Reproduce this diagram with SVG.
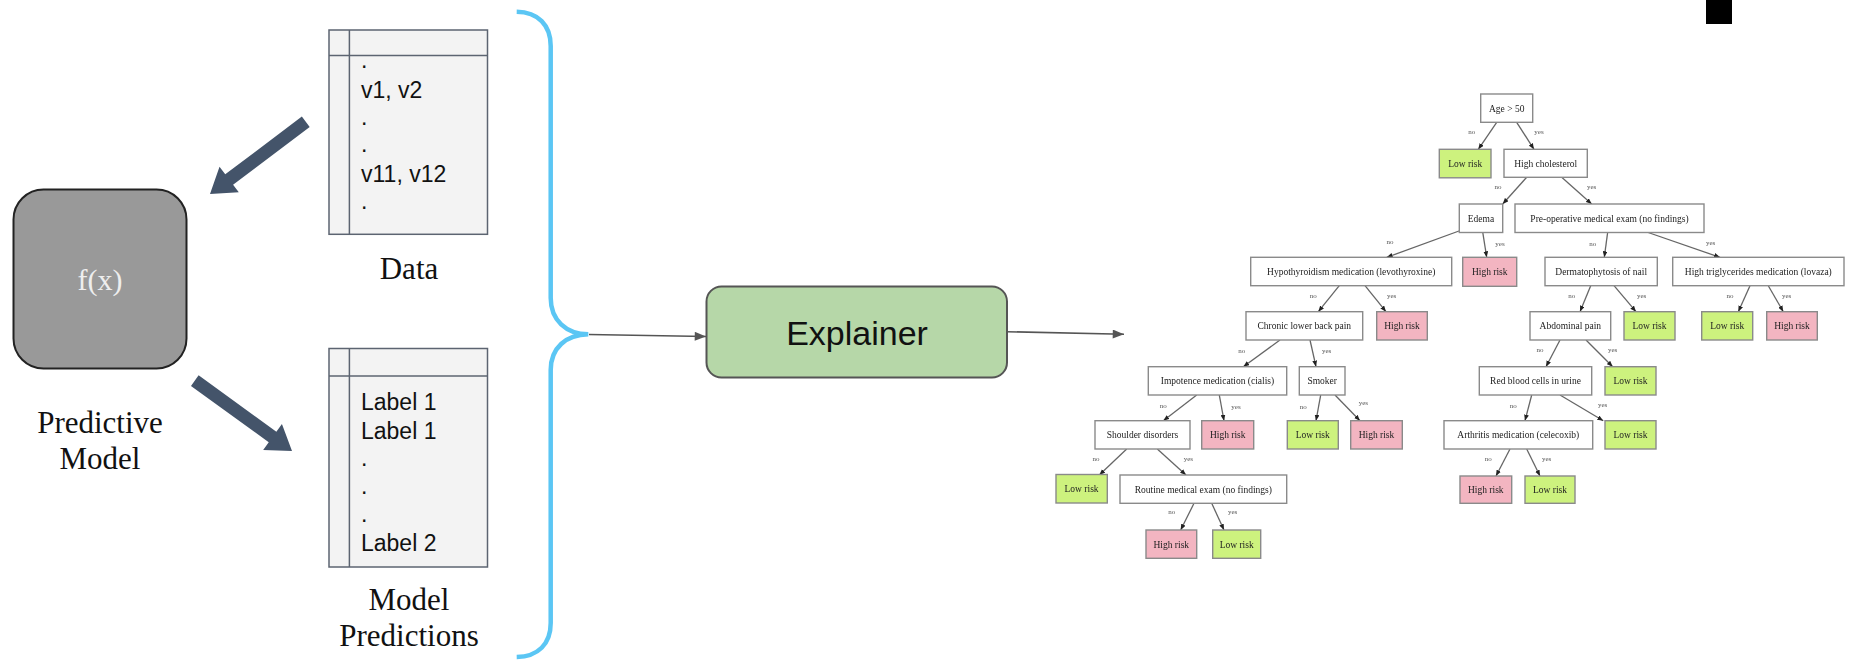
<svg xmlns="http://www.w3.org/2000/svg" xmlns:xlink="http://www.w3.org/1999/xlink" width="1853" height="660" viewBox="0 0 1853 660">
  <style>
    .serif { font-family: "Liberation Serif", "Times New Roman", serif; }
    .sans { font-family: "Liberation Sans", Arial, sans-serif; }
    .caption { font-family: "Liberation Serif", "Times New Roman", serif; font-size: 31px; fill: #111; text-anchor: middle; }
    .cell { font-family: "Liberation Sans", Arial, sans-serif; font-size: 23px; fill: #111; }
    .tbl { fill: #f3f3f3; stroke: #5c6471; stroke-width: 1.5; }
    .tline { stroke: #5c6471; stroke-width: 1.5; fill: none; }
    .fat { fill: #44546a; }
    .thin { stroke: #555; stroke-width: 1.6; fill: none; }
    .tn rect { stroke: #8a8a8a; stroke-width: 1.4; }
    .plain rect { fill: #ffffff; }
    .low rect { fill: #cdf27e; }
    .high rect { fill: #f3b5c1; }
    .tn text { font-family: "Liberation Serif", "Times New Roman", serif; font-size: 9.5px; fill: #222; text-anchor: middle; }
    .edge line { stroke: #666; stroke-width: 1.3; }
    .elab { font-family: "Liberation Serif", "Times New Roman", serif; font-size: 7px; fill: #555; text-anchor: middle; }
  </style>
  <defs>
    <!-- thick block arrow pointing along +x, tip at the origin -->
    <path id="fat-arrow" d="M-120,-6.5 L-24,-6.5 L-24,-16 L0,0 L-24,16 L-24,6.5 L-120,6.5 Z"/>
    <marker id="head" viewBox="0 0 10 8" refX="10" refY="4" markerWidth="12" markerHeight="9" markerUnits="userSpaceOnUse" orient="auto">
      <path d="M0,0 L10,4 L0,8 Z" fill="#555"/>
    </marker>
    <marker id="tip" viewBox="0 0 10 8" refX="10" refY="4" markerWidth="6" markerHeight="5" markerUnits="userSpaceOnUse" orient="auto">
      <path d="M0,0 L10,4 L0,8 Z" fill="#222"/>
    </marker>
    <!-- the tree picture is slightly soft -->
    <filter id="soft" x="-2%" y="-2%" width="104%" height="104%">
      <feGaussianBlur stdDeviation="0.45"/>
    </filter>
  </defs>

  <rect width="1853" height="660" fill="#ffffff"/>

  <!-- small black block at the top right -->
  <rect x="1706" y="0" width="26" height="24" fill="#000"/>

  <!-- predictive model -->
  <g id="model">
    <rect x="13.5" y="189.5" width="173" height="179" rx="30" ry="30" fill="#999999" stroke="#222" stroke-width="2"/>
    <text x="100" y="290" class="serif" font-size="30" fill="#eeeeee" text-anchor="middle">f(x)</text>
    <text x="100" y="433" class="caption">Predictive</text>
    <text x="100" y="469" class="caption">Model</text>
  </g>

  <!-- input data table -->
  <g id="data">
    <rect class="tbl" x="329" y="30" width="158.5" height="204.3"/>
    <line class="tline" x1="329" y1="55.6" x2="487.5" y2="55.6"/>
    <line class="tline" x1="349.4" y1="30" x2="349.4" y2="234.3"/>
    <text class="cell" x="361" y="68">.</text>
    <text class="cell" x="361" y="98">v1, v2</text>
    <text class="cell" x="361" y="125">.</text>
    <text class="cell" x="361" y="152">.</text>
    <text class="cell" x="361" y="182">v11, v12</text>
    <text class="cell" x="361" y="209">.</text>
    <text x="409" y="279" class="caption">Data</text>
  </g>

  <!-- model predictions table -->
  <g id="predictions">
    <rect class="tbl" x="329" y="348.5" width="158.5" height="218.5"/>
    <line class="tline" x1="329" y1="376" x2="487.5" y2="376"/>
    <line class="tline" x1="349.4" y1="348.5" x2="349.4" y2="567"/>
    <text class="cell" x="361" y="410">Label 1</text>
    <text class="cell" x="361" y="439">Label 1</text>
    <text class="cell" x="361" y="466">.</text>
    <text class="cell" x="361" y="494">.</text>
    <text class="cell" x="361" y="522">.</text>
    <text class="cell" x="361" y="551">Label 2</text>
    <text x="409" y="610" class="caption">Model</text>
    <text x="409" y="646" class="caption">Predictions</text>
  </g>

  <!-- explainer -->
  <g id="explainer">
    <rect x="706.5" y="286.5" width="300.5" height="91" rx="15" ry="15" fill="#b6d7a8" stroke="#555" stroke-width="2"/>
    <text x="857" y="345" class="sans" font-size="34" fill="#111" text-anchor="middle">Explainer</text>
  </g>

  <!-- connectors on the left side -->
  <g id="connectors">
    <use xlink:href="#fat-arrow" class="fat" transform="translate(210,194) rotate(142.95)"/>
    <use xlink:href="#fat-arrow" class="fat" transform="translate(292,451) rotate(35.9)"/>
    <path d="M516.7,11.7 C538,12 550.7,25 550.7,46 L550.7,298 C550.7,320 566,334 588.3,334.3 C566,334.6 550.7,348 550.7,370 L550.7,623 C550.7,644 538,656.6 516.7,657" fill="none" stroke="#5bc6f4" stroke-width="4.5"/>
    <line class="thin" x1="589" y1="334.5" x2="706" y2="336.5" marker-end="url(#head)"/>
    <line class="thin" x1="1007" y1="331.7" x2="1124" y2="334.3" marker-end="url(#head)"/>
  </g>

  <g id="tree" filter="url(#soft)">
  <!-- decision tree: edges -->
  <g id="tree-edges" class="edge">
    <line x1="1496.7" y1="122.3" x2="1478.3" y2="149.3" marker-end="url(#tip)"/>
    <line x1="1516.7" y1="122.3" x2="1534" y2="149.3" marker-end="url(#tip)"/>
    <line x1="1526.7" y1="177.3" x2="1502.7" y2="204" marker-end="url(#tip)"/>
    <line x1="1561.7" y1="177.3" x2="1591.7" y2="204" marker-end="url(#tip)"/>
    <line x1="1461.7" y1="230" x2="1386.7" y2="257.3" marker-end="url(#tip)"/>
    <line x1="1482.7" y1="232" x2="1486.7" y2="257.3" marker-end="url(#tip)"/>
    <line x1="1607.7" y1="232" x2="1604.3" y2="257.3" marker-end="url(#tip)"/>
    <line x1="1646.7" y1="232" x2="1720" y2="257.3" marker-end="url(#tip)"/>
    <line x1="1339.3" y1="285.7" x2="1318.3" y2="311.7" marker-end="url(#tip)"/>
    <line x1="1365" y1="285.7" x2="1386" y2="311.7" marker-end="url(#tip)"/>
    <line x1="1590.7" y1="285.7" x2="1580" y2="311.7" marker-end="url(#tip)"/>
    <line x1="1614" y1="285.7" x2="1636" y2="311.7" marker-end="url(#tip)"/>
    <line x1="1750" y1="285.7" x2="1738.3" y2="311.7" marker-end="url(#tip)"/>
    <line x1="1768.3" y1="285.7" x2="1783.3" y2="311.7" marker-end="url(#tip)"/>
    <line x1="1280" y1="340" x2="1243.3" y2="366.7" marker-end="url(#tip)"/>
    <line x1="1310" y1="340" x2="1316" y2="366.7" marker-end="url(#tip)"/>
    <line x1="1560" y1="340" x2="1546" y2="366.7" marker-end="url(#tip)"/>
    <line x1="1586" y1="340" x2="1612.7" y2="366.7" marker-end="url(#tip)"/>
    <line x1="1196.7" y1="395" x2="1163.3" y2="420.7" marker-end="url(#tip)"/>
    <line x1="1219.3" y1="395" x2="1224" y2="420.7" marker-end="url(#tip)"/>
    <line x1="1320.7" y1="395" x2="1316" y2="420.7" marker-end="url(#tip)"/>
    <line x1="1335" y1="395" x2="1360" y2="420.7" marker-end="url(#tip)"/>
    <line x1="1531.7" y1="395" x2="1525" y2="420.7" marker-end="url(#tip)"/>
    <line x1="1560" y1="395" x2="1603.3" y2="420.7" marker-end="url(#tip)"/>
    <line x1="1126.7" y1="449" x2="1099.3" y2="475" marker-end="url(#tip)"/>
    <line x1="1157.3" y1="449" x2="1186" y2="475" marker-end="url(#tip)"/>
    <line x1="1510" y1="449" x2="1496" y2="476" marker-end="url(#tip)"/>
    <line x1="1526.7" y1="449" x2="1540" y2="476" marker-end="url(#tip)"/>
    <line x1="1194" y1="503.3" x2="1180.7" y2="530" marker-end="url(#tip)"/>
    <line x1="1211.7" y1="503.3" x2="1224" y2="530" marker-end="url(#tip)"/>
    <g class="elab-group">
      <text class="elab" x="1471.7" y="134">no</text>
      <text class="elab" x="1539" y="134">yes</text>
      <text class="elab" x="1498" y="188.5">no</text>
      <text class="elab" x="1591.7" y="188.5">yes</text>
      <text class="elab" x="1390" y="244">no</text>
      <text class="elab" x="1500" y="245.5">yes</text>
      <text class="elab" x="1592.7" y="245.5">no</text>
      <text class="elab" x="1710.7" y="245">yes</text>
      <text class="elab" x="1313.3" y="297.5">no</text>
      <text class="elab" x="1391.7" y="297.5">yes</text>
      <text class="elab" x="1571.7" y="297.5">no</text>
      <text class="elab" x="1641.7" y="297.5">yes</text>
      <text class="elab" x="1730" y="297.5">no</text>
      <text class="elab" x="1786.7" y="297.5">yes</text>
      <text class="elab" x="1241.7" y="352.5">no</text>
      <text class="elab" x="1326.7" y="353">yes</text>
      <text class="elab" x="1540" y="351.5">no</text>
      <text class="elab" x="1612.7" y="351.5">yes</text>
      <text class="elab" x="1163.3" y="407.5">no</text>
      <text class="elab" x="1236" y="409">yes</text>
      <text class="elab" x="1303.3" y="409">no</text>
      <text class="elab" x="1363.3" y="405">yes</text>
      <text class="elab" x="1513.3" y="407.5">no</text>
      <text class="elab" x="1602.7" y="406.5">yes</text>
      <text class="elab" x="1096" y="460.5">no</text>
      <text class="elab" x="1188.3" y="460.5">yes</text>
      <text class="elab" x="1488.3" y="460.5">no</text>
      <text class="elab" x="1546.7" y="460.5">yes</text>
      <text class="elab" x="1171.7" y="514">no</text>
      <text class="elab" x="1232.7" y="514">yes</text>
    </g>
  </g>

  <!-- decision tree: nodes -->
  <g id="t0" class="tn plain"><rect x="1480.7" y="94" width="52" height="28.3"/><text x="1506.7" y="111.5">Age &gt; 50</text></g>
  <g id="t1" class="tn low"><rect x="1439.3" y="149.3" width="51.7" height="28.5"/><text x="1465.2" y="166.8">Low risk</text></g>
  <g id="t2" class="tn plain"><rect x="1504" y="149.3" width="83.3" height="28"/><text x="1545.7" y="166.6">High cholesterol</text></g>
  <g id="t3" class="tn plain"><rect x="1459.3" y="204" width="43.4" height="28.5"/><text x="1481" y="221.5">Edema</text></g>
  <g id="t4" class="tn plain"><rect x="1515" y="204" width="189" height="28.5"/><text x="1609.5" y="221.5">Pre-operative medical exam (no findings)</text></g>
  <g id="t5" class="tn plain"><rect x="1250.7" y="257.3" width="201" height="28.4"/><text x="1351.2" y="274.8">Hypothyroidism medication (levothyroxine)</text></g>
  <g id="t6" class="tn high"><rect x="1462.7" y="257.3" width="54" height="29"/><text x="1489.7" y="275">High risk</text></g>
  <g id="t7" class="tn plain"><rect x="1545" y="257.3" width="112.3" height="28.4"/><text x="1601.2" y="274.8">Dermatophytosis of nail</text></g>
  <g id="t8" class="tn plain"><rect x="1672.7" y="257.3" width="171.3" height="28.4"/><text x="1758.3" y="274.8">High triglycerides medication (lovaza)</text></g>
  <g id="t9" class="tn plain"><rect x="1246" y="311.7" width="116.7" height="28.3"/><text x="1304.3" y="329.2">Chronic lower back pain</text></g>
  <g id="t10" class="tn high"><rect x="1376.7" y="311.7" width="50.6" height="28.3"/><text x="1402" y="329.2">High risk</text></g>
  <g id="t11" class="tn plain"><rect x="1530" y="311.7" width="80.7" height="28.3"/><text x="1570.3" y="329.2">Abdominal pain</text></g>
  <g id="t12" class="tn low"><rect x="1624" y="311.7" width="51" height="28.3"/><text x="1649.5" y="329.2">Low risk</text></g>
  <g id="t13" class="tn low"><rect x="1701.7" y="311.7" width="51" height="28.3"/><text x="1727.2" y="329.2">Low risk</text></g>
  <g id="t14" class="tn high"><rect x="1766.7" y="311.7" width="50.6" height="28.3"/><text x="1792" y="329.2">High risk</text></g>
  <g id="t15" class="tn plain"><rect x="1148.3" y="366.7" width="138.4" height="28.3"/><text x="1217.5" y="384.2">Impotence medication (cialis)</text></g>
  <g id="t16" class="tn plain"><rect x="1299.3" y="366.7" width="45.7" height="28.3"/><text x="1322.2" y="384.2">Smoker</text></g>
  <g id="t17" class="tn plain"><rect x="1479.3" y="366.7" width="112.4" height="28.3"/><text x="1535.5" y="384.2">Red blood cells in urine</text></g>
  <g id="t18" class="tn low"><rect x="1605" y="366.7" width="51" height="28.3"/><text x="1630.5" y="384.2">Low risk</text></g>
  <g id="t19" class="tn plain"><rect x="1095" y="420.7" width="95" height="28.3"/><text x="1142.5" y="438.2">Shoulder disorders</text></g>
  <g id="t20" class="tn high"><rect x="1201.7" y="420.7" width="52" height="28.3"/><text x="1227.7" y="438.2">High risk</text></g>
  <g id="t21" class="tn low"><rect x="1287.3" y="420.7" width="51" height="28.3"/><text x="1312.8" y="438.2">Low risk</text></g>
  <g id="t22" class="tn high"><rect x="1350.7" y="420.7" width="51.6" height="28.3"/><text x="1376.5" y="438.2">High risk</text></g>
  <g id="t23" class="tn plain"><rect x="1444" y="420.7" width="148.7" height="28.3"/><text x="1518.3" y="438.2">Arthritis medication (celecoxib)</text></g>
  <g id="t24" class="tn low"><rect x="1605" y="420.7" width="51" height="28.3"/><text x="1630.5" y="438.2">Low risk</text></g>
  <g id="t25" class="tn low"><rect x="1056" y="474.5" width="51.3" height="28.5"/><text x="1081.6" y="492">Low risk</text></g>
  <g id="t26" class="tn plain"><rect x="1120" y="475" width="166.7" height="28.3"/><text x="1203.3" y="492.5">Routine medical exam (no findings)</text></g>
  <g id="t27" class="tn high"><rect x="1460" y="476" width="51.7" height="27.3"/><text x="1485.8" y="493">High risk</text></g>
  <g id="t28" class="tn low"><rect x="1525" y="476" width="50" height="27.3"/><text x="1550" y="493">Low risk</text></g>
  <g id="t29" class="tn high"><rect x="1146" y="530" width="50.7" height="28.3"/><text x="1171.3" y="547.5">High risk</text></g>
  <g id="t30" class="tn low"><rect x="1212.7" y="530" width="48" height="28.3"/><text x="1236.7" y="547.5">Low risk</text></g>
  </g>
</svg>
